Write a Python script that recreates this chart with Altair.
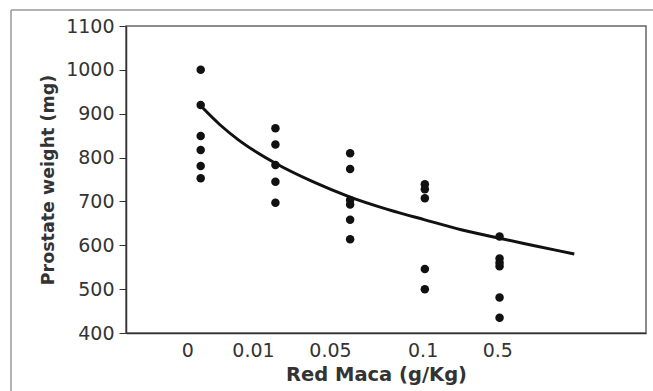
import altair as alt
import pandas as pd

# Dose groups (positions 1..5 on an ordinal-like numeric axis)
groups = [1, 1, 1, 1, 1, 1,
          2, 2, 2, 2, 2,
          3, 3, 3, 3, 3, 3,
          4, 4, 4, 4, 4,
          5, 5, 5, 5, 5, 5]
weights = [1000, 920, 849, 817, 781, 753,
           867, 830, 783, 745, 697,
           810, 774, 703, 693, 658, 614,
           739, 728, 707, 546, 500,
           620, 570, 560, 552, 481, 435]

# Trend curve
curve_x = [1, 1.25, 1.5, 1.75, 2, 2.5, 3, 3.5, 4, 4.5, 5, 5.5, 6]
curve_y = [918, 876, 841, 812, 787, 745, 710, 682, 658, 635, 616, 598, 580]

# Tick labels and their positions
tick_labels = ["0", "0.01", "0.05", "0.1", "0.5"]
tick_pos = [0.82, 1.7, 2.73, 3.97, 4.97]

pts = pd.DataFrame({"x": groups, "y": weights})
cur = pd.DataFrame({"x": curve_x, "y": curve_y})

FONT = "DejaVu Sans"
label_expr = "{}[indexof({}, datum.value)]".format(
    "[" + ",".join("'" + t + "'" for t in tick_labels) + "]",
    "[" + ",".join(str(p) for p in tick_pos) + "]",
)

xs = alt.Scale(domain=[0, 6.96], nice=False, zero=False)
ys = alt.Scale(domain=[400, 1100], nice=False, zero=False)

xaxis = alt.Axis(values=tick_pos, labelExpr=label_expr, ticks=False, grid=False,
                 title="Red Maca (g/Kg)", domainColor="#333", domainWidth=1.5,
                 labelFont=FONT, labelFontSize=19, labelColor="#333", labelPadding=8,
                 titleFont=FONT, titleFontSize=19.5, titleFontWeight="bold", titleColor="#333",
                 titlePadding=5, titleX=250)
yaxis = alt.Axis(values=list(range(400, 1101, 100)), format="d", grid=False, tickSize=7,
                 tickColor="#333", title="Prostate weight (mg)", domainColor="#333",
                 domainWidth=1.5,
                 labelFont=FONT, labelFontSize=19, labelColor="#333", labelPadding=5,
                 titleFont=FONT, titleFontSize=17.5, titleFontWeight="bold", titleColor="#333",
                 titlePadding=8)

points = alt.Chart(pts).mark_circle(size=72, color="#111", opacity=1).encode(
    x=alt.X("x:Q", scale=xs, axis=xaxis),
    y=alt.Y("y:Q", scale=ys, axis=yaxis),
)
line = alt.Chart(cur).mark_line(color="#111", strokeWidth=3, interpolate="monotone").encode(
    x=alt.X("x:Q", scale=xs),
    y=alt.Y("y:Q", scale=ys),
)

frame_df = pd.DataFrame({"k": [0]})
top_rule = alt.Chart(frame_df).mark_rule(color="#999", strokeWidth=1.5, clip=False).encode(
    x=alt.value(-115), x2=alt.value(540), y=alt.value(-16))
left_rule = alt.Chart(frame_df).mark_rule(color="#999", strokeWidth=1.5, clip=False).encode(
    x=alt.value(-115), y=alt.value(-16), y2=alt.value(400))

chart = alt.layer(top_rule, left_rule, line, points).properties(
    width=520, height=307,
    padding={"left": 126, "top": 26, "right": 7, "bottom": 58},
    autosize=alt.AutoSizeParams(type="none"),
    background="white",
).configure_view(stroke="#666", strokeWidth=1.5)

chart.save("out.html", embed_options={"renderer": "svg", "actions": False})
